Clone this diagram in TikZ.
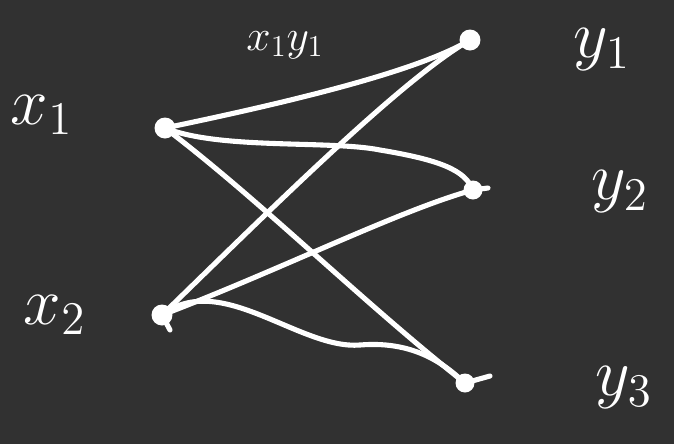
\documentclass[tikz,border=0pt]{standalone}
\usepackage{amsmath}
\begin{document}
\begin{tikzpicture}[x=0.02cm,y=-0.02cm,
  vert/.style={circle,fill=white,inner sep=0pt,minimum size=0.42cm},
  edge/.style={draw=white,line width=2.9pt,line cap=round},
  lbl/.style={text=white,font=\huge,scale=1.85},
  elbl/.style={text=white,font=\huge,scale=1.2}]
\definecolor{bg}{HTML}{313131}
\fill[bg] (0,0) rectangle (674,444);
\useasboundingbox (0,0) rectangle (674,444);
\node[vert] (x1) at (165,128) {};
\node[vert] (x2) at (162,315) {};
\node[vert] (y1) at (470,40) {};
\node[vert,minimum size=0.38cm] (y2) at (473,190) {};
\node[vert,minimum size=0.38cm] (y3) at (465,383) {};
\node[lbl] (lx1) at (42,115) {$x_1$};
\node[lbl] (lx2) at (55,315) {$x_2$};
\node[lbl] (ly1) at (602,50) {$y_1$};
\node[lbl] (ly2) at (620,192) {$y_2$};
\node[lbl] (ly3) at (624,388) {$y_3$};
\node[elbl] (le) at (285,45) {$x_1y_1$};
\draw[edge] (x1.center) .. controls (300,100) and (420,70) .. (y1.center);
\draw[edge] (x1.center) .. controls (220,150) and (330,140) .. (380,150) .. controls (440,160) and (465,170) .. (y2.center);
\draw[edge] (x1.center) .. controls (260,200) and (360,300) .. (y3.center) -- (490,376);
\draw[edge] (x2.center) .. controls (260,220) and (400,80) .. (y1.center);
\draw[edge] (x2.center) .. controls (280,270) and (400,210) .. (y2.center) -- (488,188);
\draw[edge] (x2.center) -- (170,330) (x2.center) .. controls (220,270) and (300,350) .. (360,345) .. controls (420,340) and (450,370) .. (y3.center);
\end{tikzpicture}
\end{document}
